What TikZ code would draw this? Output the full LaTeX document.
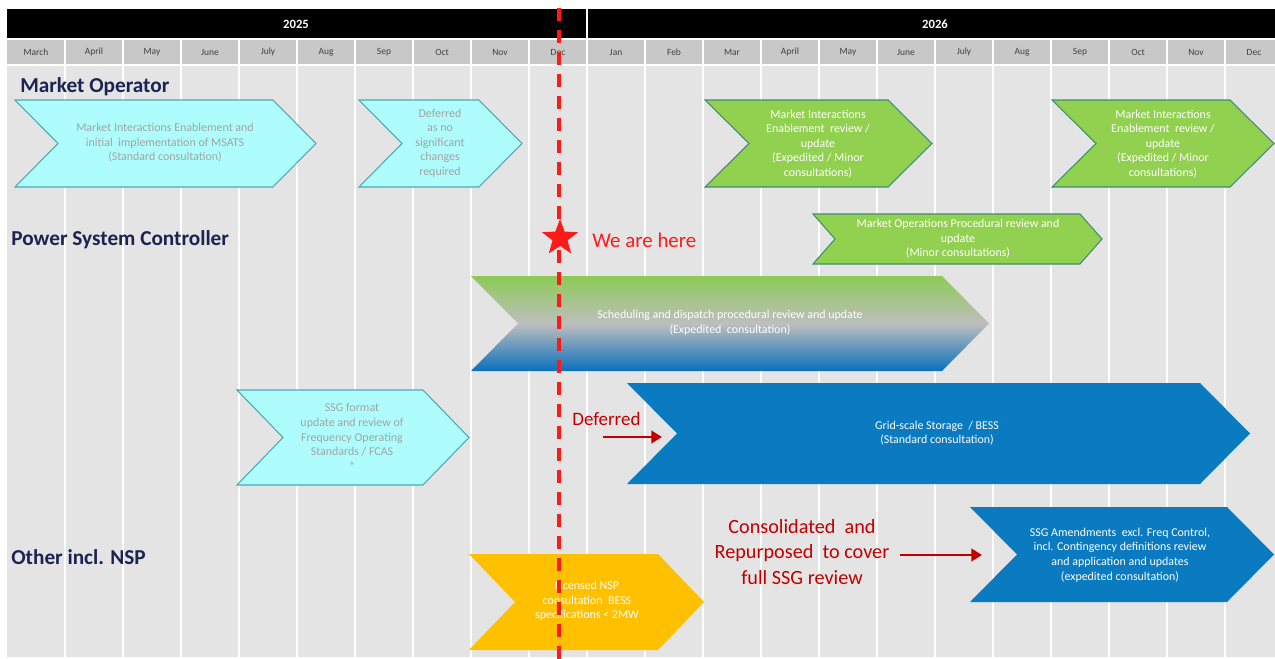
\documentclass[tikz,border=0pt]{standalone}
\usepackage{fontspec}
\setmainfont{Carlito}
\usetikzlibrary{arrows.meta,shapes.geometric}
\definecolor{bodygray}{HTML}{E4E4E4}
\definecolor{monthgray}{HTML}{C8C8C8}
\definecolor{cyanfill}{HTML}{AEFCFC}
\definecolor{cyanedge}{HTML}{4AAAB4}
\definecolor{greenfill}{HTML}{92D050}
\definecolor{greenedge}{HTML}{3E8E70}
\definecolor{bluefill}{HTML}{0A7BC0}
\definecolor{yellowfill}{HTML}{FFC000}
\definecolor{navy}{HTML}{1C2352}
\definecolor{darkred}{HTML}{C00000}
\definecolor{brightred}{HTML}{FF1A1A}
\definecolor{greytext}{HTML}{A3A3A3}
\definecolor{gradtop}{HTML}{8CCB55}
\definecolor{gradmid}{HTML}{BEBEBE}
\definecolor{gradbot}{HTML}{0A70BC}
\newcommand\chevron[6]{% style, x1, x2, ytop, ybot, depth
  \path[#1] (#2,#4) -- ({#3-#6},#4) -- (#3,{(#4+#5)/2}) -- ({#3-#6},#5) -- (#2,#5) -- ({#2+#6},{(#4+#5)/2}) -- cycle;}
\tikzset{
  cyanchev/.style={fill=cyanfill, draw=cyanedge, line width=0.6pt, line join=miter},
  greenchev/.style={fill=greenfill, draw=greenedge, line width=0.6pt, line join=miter},
  bluechev/.style={fill=bluefill},
  yellowchev/.style={fill=yellowfill},
  gradchev/.style={top color=gradtop, bottom color=gradbot, middle color=gradmid},
  chevtxt/.style={align=center, inner sep=0pt, font=\fontsize{6.8}{8.3}\selectfont},
  greytxt/.style={chevtxt, text=greytext},
  whitetxt/.style={chevtxt, text=white},
  rowlabel/.style={anchor=west, inner sep=0pt, text=navy, font=\fontsize{12.1}{14}\selectfont\bfseries},
  monthtxt/.style={inner sep=0pt, text=black!75, font=\fontsize{5.4}{6}\selectfont},
  yeartxt/.style={inner sep=0pt, text=white, font=\fontsize{7.2}{8}\selectfont\bfseries},
  redarrow/.style={draw=darkred, line width=1.7pt, -{Triangle[length=6pt,width=7pt]}},
}
\begin{document}
\begin{tikzpicture}[x=0.02cm, y=-0.02cm]
\useasboundingbox (0,0) rectangle (1275,659);
\fill[white] (0,0) rectangle (1275,659);
% year bars
\fill[black] (7,9) rectangle (586,38);
\fill[black] (588,9) rectangle (1275,38);
\node[yeartxt] (y2025) at (296,24) {2025};
\node[yeartxt] (y2026) at (935,24) {2026};
% month row and body
\fill[monthgray] (7,40) rectangle (1275,64);
\fill[bodygray] (7,66) rectangle (1275,657);
\foreach \i in {1,...,21} {
  \draw[white, line width=1.2pt] ({7+58*\i},40) -- ({7+58*\i},657);
}
\foreach \m [count=\i from 0] in {March,April,May,June,July,Aug,Sep,Oct,Nov,Dec,Jan,Feb,Mar,April,May,June,July,Aug,Sep,Oct,Nov,Dec} {
  \node[monthtxt] (m\i) at ({7+58*\i+29},52) {\m};
}
% row labels
\node[rowlabel] (lmo) at (20,87) {Market Operator};
\node[rowlabel] (lpsc) at (11,240) {Power System Controller};
\node[rowlabel] (lnsp) at (11,557) {Other incl. NSP};
% chevrons
\chevron{cyanchev}{15}{316}{100}{187}{43}
\chevron{cyanchev}{359}{522}{100}{187}{43}
\chevron{greenchev}{705}{932}{100}{187}{44}
\chevron{greenchev}{1052}{1274}{100}{187}{44}
\chevron{greenchev}{813}{1102}{214}{264}{22}
\chevron{gradchev}{471}{989}{276}{371}{47}
\chevron{cyanchev}{237}{469}{390}{485}{46}
\chevron{bluechev}{627}{1250}{383}{484}{50}
\chevron{yellowchev}{469}{704}{554}{650}{46}
\chevron{bluechev}{970}{1274}{507}{602}{47}
% chevron texts
\node[greytxt] (c1) at (165,143) {Market Interactions Enablement and\\initial\ \ implementation of MSATS\\(Standard consultation)};
\node[greytxt] (c2) at (440,143) {Deferred\\as no\\significant\\changes\\required};
\node[whitetxt] (c3) at (818,144) {Market Interactions\\Enablement\ \ review /\\update\\(Expedited / Minor\\consultations)};
\node[whitetxt] (c4) at (1163,144) {Market Interactions\\Enablement\ \ review /\\update\\(Expedited / Minor\\consultations)};
\node[whitetxt] (c5) at (958,239) {Market Operations Procedural review and\\update\\(Minor consultations)};
\node[whitetxt] (c6) at (730,323) {Scheduling and dispatch procedural review and update\\(Expedited\ \ consultation)};
\node[greytxt] (c7) at (352,437) {SSG format\\update and review of\\Frequency Operating\\Standards / FCAS\\*};
\node[whitetxt] (c8) at (937,433) {Grid-scale Storage\ \ / BESS\\(Standard consultation)};
\node[whitetxt] (c9) at (587,601) {Licensed NSP\\consultation\ \ BESS\\specifications < 2MW};
\node[whitetxt] (c10) at (1120,555) {SSG Amendments\ \ excl. Freq Control,\\incl. Contingency definitions review\\and application and updates\\(expedited consultation)};
% annotations
\node[anchor=west, inner sep=0pt, text=darkred, font=\fontsize{10.8}{12}\selectfont] (deflbl) at (572,419) {Deferred};
\coordinate (da) at (603,437);
\coordinate (db) at (662,437);
\draw[redarrow] (da) -- (db);
\node[align=center, inner sep=0pt, text=darkred, font=\fontsize{11.5}{14.5}\selectfont] (cons) at (802,552) {Consolidated\ \ and\\Repurposed\ \ to cover\\full SSG review};
\coordinate (ca) at (900,555);
\coordinate (cb) at (982,555);
\draw[redarrow] (ca) -- (cb);
% today line
\coordinate (ltop) at (559,8);
\coordinate (lbot) at (559,659);
\draw[brightred, line width=1.9pt, dash pattern=on 0.27cm off 0.17cm] (ltop) -- (lbot);
\node[star, star points=5, star point ratio=2.4, fill=brightred, minimum size=0.76cm, inner sep=0pt] (star) at (560,238) {};
\node[anchor=west, inner sep=0pt, text=brightred, font=\fontsize{11.9}{13}\selectfont] (here) at (592,240) {We are here};
\end{tikzpicture}
\end{document}
